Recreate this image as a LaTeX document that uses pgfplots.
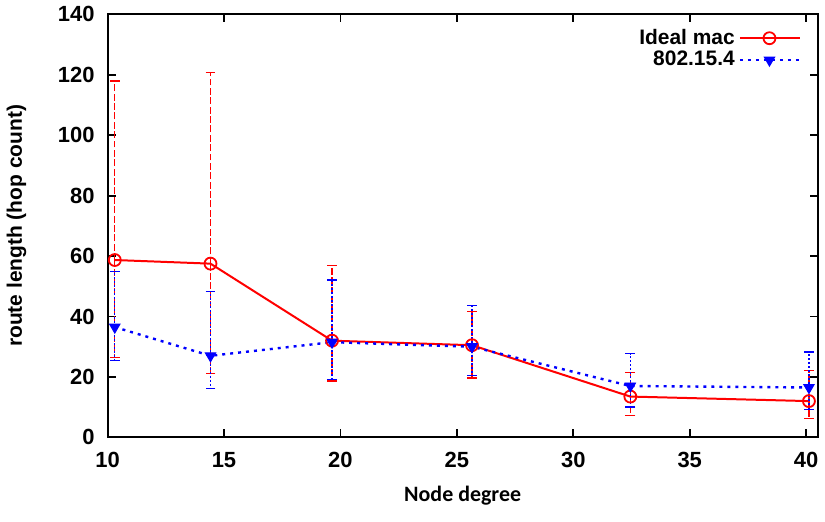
\documentclass[border=0pt]{standalone}
\usepackage{pgfplots}
\pgfplotsset{compat=1.18}
\usepackage{fontspec}
\setmainfont{Liberation Sans}
\newfontfamily\carlito{Carlito}
\begin{document}
\begin{tikzpicture}
\begin{axis}[
  scale only axis, width=356pt, height=212pt,
  xmin=10, xmax=40.5, ymin=0, ymax=140,
  xtick={10,15,...,40}, ytick={0,20,...,140},
  axis line style={line width=1pt},
  tick style={black, line width=0.9pt},
  major tick length=4pt,
  tick label style={font=\fontsize{11}{13}\selectfont\bfseries},
  /pgf/number format/assume math mode=true,
  xticklabel style={yshift=-4pt},
  yticklabel style={xshift=-3pt},
  xlabel={\carlito\fontsize{11}{13}\selectfont\bfseries Node degree\rule[-7pt]{0pt}{7pt}},
  ylabel={\fontsize{10.5}{12}\selectfont\bfseries route length (hop count)},
  ylabel shift=9pt,
  xlabel style={yshift=-2pt},
  legend style={draw=none, fill=none, at={(0.985,0.985)}, anchor=north east, font=\fontsize{10.5}{12}\selectfont\bfseries, row sep=-2pt},
  legend plot pos=right, legend cell align=right,
  legend image code/.code={\draw[mark repeat=2,mark phase=2] plot coordinates {(0cm,0cm) (0.52cm,0cm) (1.05cm,0cm)};},
]
\addplot[red, line width=1pt, mark=o, mark size=3pt, mark options={solid, line width=0.9pt},
  error bars/.cd, y dir=both, y explicit,
  error bar style={red, line width=0.7pt, dash pattern=on 3.5pt off 1.2pt},
  error mark options={red, rotate=90, mark size=2.5pt, line width=0.7pt, solid}]
coordinates {
 (10.31,58.7) += (0,59.3) -= (0,32.2)
 (14.42,57.5) += (0,63.3) -= (0,36.4)
 (19.64,32) += (0,24.8) -= (0,13.4)
 (25.65,30.5) += (0,11.2) -= (0,10.8)
 (32.45,13.5) += (0,7.9) -= (0,6.2)
 (40.12,12) += (0,10.1) -= (0,5.7)
};
\addlegendentry{Ideal mac}
\addplot[blue, line width=1.2pt, dash pattern=on 1.5pt off 2.5pt, mark=triangle*, mark size=3pt, mark options={solid, rotate=180, line width=0.5pt},
  error bars/.cd, y dir=both, y explicit,
  error bar style={blue, line width=0.7pt, dash pattern=on 1pt off 1pt},
  error mark options={blue, rotate=90, mark size=2.5pt, line width=0.7pt, solid}]
coordinates {
 (10.31,36.5) += (0,18.4) -= (0,11.1)
 (14.42,27) += (0,21.3) -= (0,10.8)
 (19.64,31.5) += (0,20.6) -= (0,12.4)
 (25.65,30) += (0,13.6) -= (0,9.5)
 (32.45,17) += (0,10.7) -= (0,7)
 (40.12,16.5) += (0,11.7) -= (0,7.3)
};
\addlegendentry{802.15.4}
\end{axis}
\end{tikzpicture}
\end{document}
